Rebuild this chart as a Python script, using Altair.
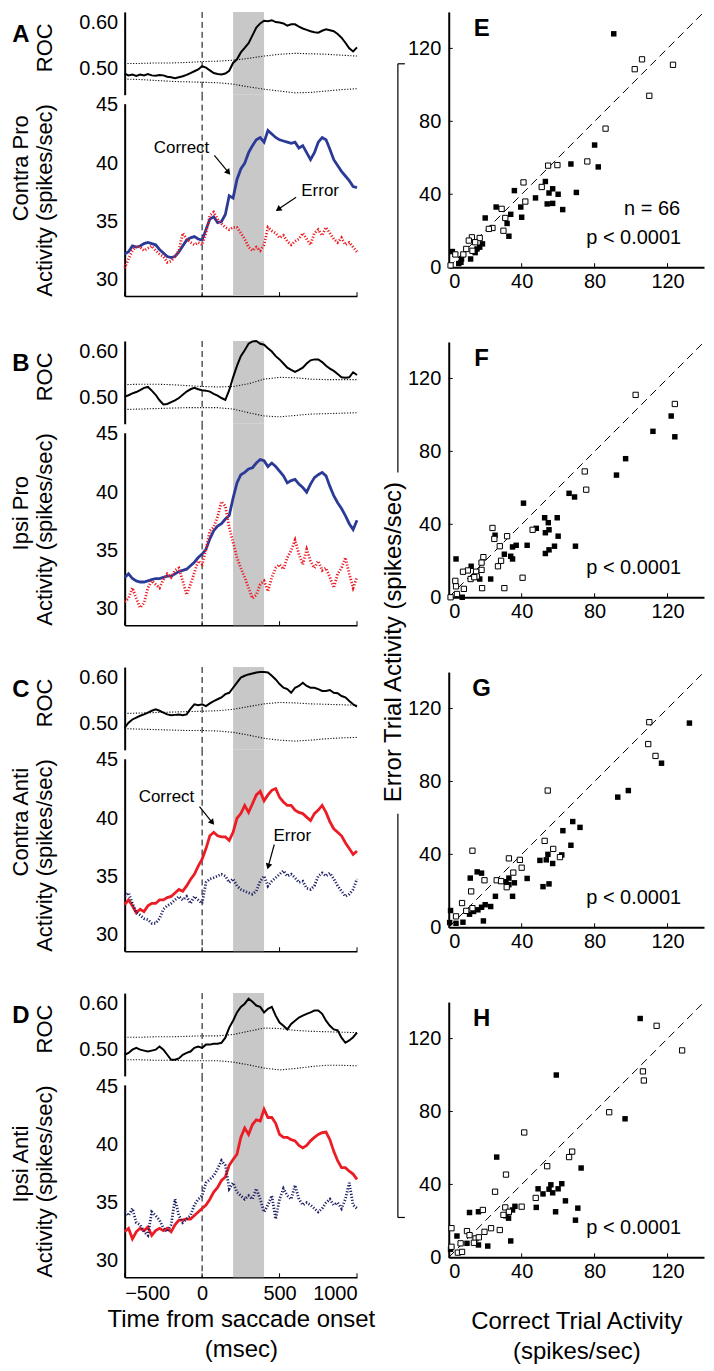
import math
import numpy as np
import pandas as pd
import altair as alt

FONT = "Liberation Sans"
BLUE = "#2b3a97"
RED = "#ec1c24"
NAVY = "#1f2266"
GRAY = "#c8c8c8"

# ---------------- time-course data (-500..1000 ms) ----------------
A_roc = [0.489, 0.485, 0.487, 0.484, 0.487, 0.485, 0.488, 0.485, 0.484, 0.486, 0.485, 0.482, 0.481, 0.479, 0.481, 0.483, 0.486, 0.490, 0.494, 0.498, 0.505, 0.502, 0.496, 0.490, 0.488, 0.487, 0.489, 0.495, 0.512, 0.520, 0.535, 0.545, 0.555, 0.572, 0.589, 0.598, 0.604, 0.603, 0.605, 0.601, 0.600, 0.598, 0.593, 0.596, 0.596, 0.591, 0.587, 0.584, 0.581, 0.579, 0.578, 0.582, 0.585, 0.583, 0.581, 0.575, 0.567, 0.556, 0.544, 0.537, 0.546]
A_up = [0.511, 0.511, 0.512, 0.512, 0.513, 0.515, 0.516, 0.518, 0.522, 0.527, 0.531, 0.533, 0.532, 0.531, 0.529, 0.527]
A_lo = [0.477, 0.476, 0.474, 0.472, 0.471, 0.470, 0.469, 0.466, 0.460, 0.455, 0.451, 0.447, 0.448, 0.451, 0.454, 0.456]
A_cor = [32.2, 32.4, 32.9, 32.8, 32.9, 33.1, 33.2, 33.1, 33.0, 32.6, 32.3, 32.0, 31.9, 32.0, 32.4, 32.9, 33.4, 33.6, 33.7, 33.5, 33.4, 34.3, 35.2, 35.4, 34.9, 35.0, 35.6, 37.2, 37.0, 38.6, 39.5, 40.0, 40.9, 41.5, 42.0, 42.2, 41.8, 42.8, 42.5, 42.2, 42.0, 41.9, 41.8, 41.7, 41.8, 41.3, 41.5, 40.9, 40.3, 40.9, 41.8, 42.2, 42.0, 41.2, 40.3, 39.8, 39.3, 38.9, 38.5, 38.0, 37.9]
A_err = [31.0, 31.8, 32.5, 32.9, 32.8, 32.5, 32.7, 32.9, 32.5, 32.2, 32.0, 31.5, 31.6, 32.0, 32.5, 34.0, 33.5, 33.2, 33.0, 33.2, 33.0, 34.0, 35.5, 35.8, 35.2, 34.8, 34.5, 34.3, 34.5, 34.5, 34.0, 33.5, 32.8, 32.5, 32.8, 32.5, 33.0, 34.5, 34.2, 34.0, 33.6, 33.8, 33.3, 33.0, 33.3, 33.5, 34.0, 33.5, 33.0, 34.0, 34.3, 33.8, 34.5, 34.0, 33.5, 33.2, 33.6, 33.0, 33.2, 32.8, 32.4]

B_roc = [0.502, 0.505, 0.509, 0.512, 0.516, 0.521, 0.523, 0.515, 0.506, 0.494, 0.485, 0.486, 0.490, 0.494, 0.499, 0.506, 0.513, 0.518, 0.521, 0.518, 0.516, 0.515, 0.513, 0.508, 0.504, 0.499, 0.495, 0.516, 0.544, 0.569, 0.590, 0.603, 0.617, 0.622, 0.623, 0.617, 0.615, 0.607, 0.600, 0.590, 0.583, 0.574, 0.565, 0.560, 0.556, 0.560, 0.565, 0.574, 0.581, 0.583, 0.583, 0.577, 0.569, 0.563, 0.558, 0.551, 0.544, 0.543, 0.544, 0.555, 0.549]
B_up = [0.528, 0.529, 0.529, 0.528, 0.526, 0.524, 0.523, 0.524, 0.530, 0.540, 0.544, 0.543, 0.540, 0.539, 0.539, 0.539]
B_lo = [0.474, 0.475, 0.476, 0.477, 0.478, 0.478, 0.478, 0.475, 0.467, 0.460, 0.458, 0.461, 0.464, 0.465, 0.466, 0.467]
B_cor = [32.7, 33.0, 32.6, 32.4, 32.3, 32.3, 32.4, 32.5, 32.6, 32.6, 32.7, 32.8, 32.8, 33.0, 33.2, 33.3, 33.4, 33.7, 34.0, 34.4, 34.7, 35.1, 36.0, 36.7, 37.1, 37.3, 37.7, 38.0, 39.5, 40.8, 41.5, 41.7, 42.0, 42.1, 42.5, 42.8, 42.7, 42.2, 42.5, 42.2, 41.8, 41.4, 40.8, 41.0, 41.1, 40.7, 40.4, 40.0, 40.7, 41.25, 41.5, 41.7, 41.4, 40.5, 39.7, 39.1, 38.6, 38.0, 37.3, 36.8, 37.6]
B_err = [30.6, 30.9, 31.8, 30.9, 30.1, 30.5, 31.8, 32.4, 32.1, 31.8, 32.5, 33.0, 32.7, 33.3, 33.5, 32.4, 31.2, 32.1, 33.1, 34.1, 33.8, 35.1, 36.7, 37.0, 37.9, 39.2, 38.8, 37.0, 35.7, 34.4, 33.5, 32.7, 31.8, 30.9, 31.2, 32.1, 32.4, 31.5, 32.7, 33.5, 33.8, 33.4, 34.4, 35.0, 35.9, 34.7, 33.8, 35.1, 34.1, 33.5, 34.1, 33.3, 33.5, 32.7, 31.8, 33.0, 33.5, 34.4, 33.0, 31.8, 32.7]

C_roc = [0.491, 0.502, 0.509, 0.513, 0.517, 0.520, 0.524, 0.528, 0.531, 0.528, 0.524, 0.520, 0.518, 0.519, 0.520, 0.518, 0.520, 0.532, 0.542, 0.540, 0.542, 0.538, 0.544, 0.549, 0.553, 0.557, 0.564, 0.567, 0.578, 0.589, 0.600, 0.604, 0.607, 0.609, 0.611, 0.612, 0.612, 0.611, 0.604, 0.596, 0.586, 0.578, 0.575, 0.567, 0.578, 0.582, 0.589, 0.582, 0.578, 0.578, 0.575, 0.571, 0.571, 0.573, 0.567, 0.566, 0.560, 0.557, 0.549, 0.542, 0.537]
C_up = [0.522, 0.523, 0.524, 0.525, 0.526, 0.527, 0.528, 0.531, 0.537, 0.543, 0.546, 0.545, 0.543, 0.542, 0.541, 0.540]
C_lo = [0.489, 0.488, 0.487, 0.486, 0.485, 0.485, 0.484, 0.481, 0.475, 0.468, 0.464, 0.462, 0.464, 0.467, 0.469, 0.470]
C_cor = [32.6, 33.0, 32.5, 31.9, 32.2, 32.0, 32.5, 32.7, 32.7, 33.0, 33.0, 33.2, 33.3, 33.6, 33.9, 33.75, 34.2, 34.75, 35.2, 35.9, 36.5, 37.4, 38.5, 38.8, 38.5, 38.4, 38.4, 38.1, 38.8, 40.0, 40.4, 41.1, 40.5, 41.25, 42.0, 42.3, 41.5, 42.0, 42.4, 42.55, 41.8, 41.4, 41.1, 41.1, 40.7, 40.5, 40.4, 40.1, 39.8, 40.4, 40.7, 41.1, 40.5, 39.7, 39.1, 38.8, 38.5, 37.9, 37.4, 36.9, 37.2]
C_err = [33.3, 33.6, 32.7, 31.9, 31.7, 31.4, 31.3, 31.0, 31.0, 31.4, 32.2, 32.5, 32.7, 33.0, 33.3, 33.0, 33.3, 32.7, 33.3, 33.0, 32.7, 34.5, 34.8, 34.9, 35.05, 35.2, 35.05, 34.5, 34.8, 34.2, 33.9, 33.75, 33.6, 33.5, 33.75, 34.6, 35.05, 34.2, 34.6, 34.9, 35.2, 35.5, 35.05, 35.2, 34.9, 34.5, 34.6, 34.0, 33.9, 34.2, 35.05, 35.3, 35.05, 35.3, 34.8, 34.2, 33.75, 33.3, 33.5, 33.9, 34.8]

D_roc = [0.489, 0.493, 0.500, 0.504, 0.500, 0.498, 0.496, 0.498, 0.500, 0.507, 0.500, 0.489, 0.478, 0.478, 0.481, 0.489, 0.493, 0.496, 0.504, 0.507, 0.504, 0.511, 0.511, 0.513, 0.513, 0.515, 0.526, 0.548, 0.563, 0.581, 0.593, 0.600, 0.611, 0.604, 0.596, 0.593, 0.581, 0.589, 0.593, 0.574, 0.559, 0.552, 0.544, 0.556, 0.563, 0.570, 0.574, 0.578, 0.581, 0.585, 0.585, 0.578, 0.563, 0.552, 0.544, 0.542, 0.526, 0.515, 0.520, 0.527, 0.537]
D_up = [0.527, 0.527, 0.528, 0.528, 0.529, 0.530, 0.530, 0.533, 0.540, 0.547, 0.546, 0.542, 0.540, 0.539, 0.538, 0.537]
D_lo = [0.478, 0.478, 0.477, 0.477, 0.476, 0.476, 0.476, 0.473, 0.467, 0.460, 0.456, 0.459, 0.463, 0.466, 0.466, 0.465]
D_cor = [32.5, 32.8, 31.9, 32.5, 32.8, 32.6, 32.9, 32.2, 32.6, 32.8, 32.6, 32.8, 32.5, 33.1, 33.5, 33.5, 33.6, 33.6, 33.9, 34.2, 34.5, 34.8, 35.3, 35.9, 36.3, 36.9, 37.2, 38.2, 38.7, 39.15, 40.6, 41.4, 40.85, 41.7, 42.1, 42.0, 43.0, 42.3, 42.3, 41.8, 40.85, 40.6, 40.6, 40.4, 40.3, 39.9, 39.7, 39.9, 40.3, 40.6, 40.85, 41.0, 41.05, 40.4, 39.4, 38.6, 38.0, 38.0, 37.7, 37.45, 37.0]
D_err = [34.2, 33.9, 34.5, 33.3, 33.1, 32.5, 32.2, 34.2, 33.9, 33.5, 32.8, 32.5, 33.1, 35.3, 33.9, 33.3, 33.6, 33.9, 34.8, 35.3, 35.6, 36.7, 37.0, 37.3, 37.9, 38.6, 38.2, 36.2, 36.7, 35.9, 35.6, 35.3, 35.6, 35.3, 36.2, 35.3, 34.2, 34.8, 35.6, 33.6, 35.3, 36.2, 35.6, 35.3, 36.5, 35.3, 34.8, 35.0, 34.8, 34.5, 34.2, 34.5, 35.0, 35.3, 34.8, 35.0, 34.5, 35.3, 36.7, 34.8, 34.5]

BAND = [200, 400]
ONSET = [0]
X_TICKS = [-500, 0, 500, 1000]

# ---------------- scatter data (correct x, error y) ----------------
E_fx = [90.5, 80, 82, 67, 70, 62.5, 57, 60, 55, 53, 54, 57, 47.6, 36, 39.5, 40, 34, 32, 33, 26, 20, 18.5, 15.5, 14.5, 12, 6.7, 2, 5.5, 7, 17]
E_fy = [128, 67, 55, 56.6, 41, 31.6, 43, 40, 40.7, 47, 34.7, 35, 38, 42, 33, 27.4, 29, 24, 17, 33, 27, 12.8, 10, 8, 4.5, 2.7, 8.6, 2, 4.5, 11]
E_ox = [123, 106, 102, 110, 86, 76, 59.6, 54.5, 41, 51, 42, 31, 30, 29, 24, 22, 17, 12.7, 11, 14.5, 8, 3.6, 1, 9.6, 13]
E_oy = [111, 114, 108.6, 94, 76, 58, 56, 55.7, 46.5, 44, 36, 27, 20, 32, 21.5, 21, 16, 16.4, 14.6, 13.7, 7, 7, 1, 10, 9]
F_fx = [122, 112, 124, 97, 92, 66, 69, 41, 52.6, 59.5, 54.6, 55, 48, 53, 60, 43, 37, 35, 58, 69.5, 55, 53, 30.5, 34, 35, 25.4, 23, 17, 12.3, 4, 7.4]
F_fy = [99.4, 91, 88, 76, 67, 57, 55, 51.6, 43.6, 43.6, 40.9, 37, 37.8, 35.4, 33.5, 28.5, 28.5, 27.6, 28, 28, 26, 24, 23.6, 22.5, 21, 34, 10, 10, 17, 21, 0]
F_ox = [102.5, 124, 74.6, 75.4, 46, 24, 25, 32, 28, 28.7, 27, 19, 18, 18, 15, 15.4, 10.5, 7.8, 12, 3.6, 4, 8.3, 4.5, 1, 18.3, 30.5, 40.5, 14]
F_oy = [111, 106, 69, 59, 37, 38, 32, 33.5, 28, 20, 17, 22, 19, 15, 14, 11.4, 14.7, 14, 10, 9, 6, 4.6, 1.8, 0, 5, 5, 10.7, 11]
G_fx = [132, 116.7, 98.5, 92.7, 72, 68, 62.6, 67, 62, 54.4, 53.5, 50, 57, 55, 51.7, 43, 36, 35, 33, 33, 31.4, 25.6, 23, 20, 18, 15.6, 18, 11.8, 16, 13.6, 11.4, 19, 1, 0.5, 4, 7.8]
G_fy = [112, 90, 75, 71.4, 54.8, 58, 53, 45, 39.7, 40, 37, 36.7, 35, 23.8, 22.3, 26.8, 24.4, 17, 27, 23.4, 25, 17, 11.4, 12.4, 11, 30.4, 29.7, 27, 9.6, 8.7, 7.2, 3.5, 9.2, 2.6, 2.2, 2.8]
G_ox = [110, 109.4, 113.4, 54.3, 52.6, 57.3, 61, 13, 33, 39, 40, 35.4, 26.3, 28.7, 19.6, 31.8, 12.3, 7.3, 9.6, 13, 4]
G_oy = [112.5, 100.5, 94, 75, 47.4, 43, 38.5, 42, 37.8, 37, 32.7, 30, 25.8, 25.3, 25.8, 22, 19.7, 13.3, 9, 10.5, 6]
H_fx = [105, 59, 96.7, 26.3, 72.6, 62, 56, 60, 55, 57, 49, 51.7, 64, 70.8, 48, 58.6, 69.5, 36.3, 35, 33, 31.4, 32.8, 11.4, 16.3, 4.5, 10, 16.3, 21.4, 34, 1]
H_fy = [131, 100, 76, 55, 49, 40.4, 39.8, 37.6, 37.4, 35.4, 37.6, 34.8, 31, 27, 27.4, 25, 20.4, 28, 26, 24.6, 22.8, 21.5, 24.6, 25, 11.7, 7.7, 6.8, 6.2, 9, 4.4]
H_ox = [114, 128, 106.5, 107, 88, 41.4, 67.7, 66, 54, 31.4, 25.4, 47.7, 40, 31, 33, 30, 18.7, 1.5, 10, 11.4, 14.7, 16.5, 19.6, 23.2, 28, 6.5, 13.8, 1.5, 5, 7.3]
H_oy = [127, 113.5, 102, 97, 79.6, 68.5, 58, 55, 50, 45.4, 36, 32.6, 27.8, 27.4, 25, 23.3, 26, 16, 14.4, 12.2, 10.4, 11, 14, 16, 15, 7.7, 8, 5.8, 2.6, 3]
IDENTITY = [0, 140]
S_TICKS = [40, 80, 120]

# annotation arrows (data coords): text x, y, arrow start x,y, end x,y
ANN_A = [("Correct", -133, 41.34, 79, 40.66, 170, 39.2), ("Error", 762, 37.58, 607, 37.07, 491, 36.04)]
ANN_C = [("Correct", -230, 41.85, -17, 41.0, 66, 39.63), ("Error", 582, 38.52, 466, 37.75, 427, 35.87)]

# ---------------- layout constants ----------------
W_L, H_ROC, H_ACT = 233, 83, 193
GAP = 9
ROC_DOM = [0.443, 0.623]
ACT_DOM = [28.6, 45.1]
W_S = H_S = 256
S_DOM = [0, 140]
LBL_X = -104

XS = alt.Scale(domain=[-500, 1000], nice=False, zero=False)


def ser(vals, name):
    return pd.DataFrame({"t": np.linspace(-500, 1000, len(vals)), "v": vals, "s": name})


def roc_chart(letter, roc, up, lo, title_dy):
    ys = alt.Scale(domain=ROC_DOM, nice=False, zero=False)
    xax = None
    yax = alt.Axis(values=[0.5, 0.6], format=".2f", title="ROC", ticks=False, labelPadding=7,
                   titleX=-80, titleY=H_ROC / 2 + title_dy, titleAngle=270, titleAlign="center",
                   titleBaseline="middle", titleFontSize=22, labelFontSize=20, domainWidth=2)

    def X(f):
        return alt.X(f, type="quantitative", scale=XS, axis=xax)

    def Y(f):
        return alt.Y(f, type="quantitative", scale=ys, axis=yax)

    band = alt.Chart(pd.DataFrame({"a": [BAND[0]], "b": [BAND[1]]})).mark_rect(color=GRAY).encode(
        x=X("a"), x2="b", y=alt.value(0), y2=alt.value(H_ROC))
    onset = alt.Chart(pd.DataFrame({"o": ONSET})).mark_rule(color="black", strokeWidth=1, strokeDash=[6, 4]).encode(
        x=X("o"), y=alt.value(0), y2=alt.value(H_ROC))
    ci = alt.Chart(pd.concat([ser(up, "up"), ser(lo, "lo")])).mark_line(
        color="#111111", strokeWidth=1.1, strokeDash=[1.2, 1.6]).encode(x=X("t"), y=Y("v"), detail="s:N")
    main = alt.Chart(ser(roc, "roc")).mark_line(color="black", strokeWidth=2).encode(x=X("t"), y=Y("v"))
    let = alt.Chart(pd.DataFrame({"k": [0]})).mark_text(text=letter, fontSize=24, fontWeight="bold",
                                                         align="center", baseline="middle").encode(
        x=alt.value(LBL_X), y=alt.value(23))
    return alt.layer(band, onset, ci, main, let).properties(width=W_L, height=H_ROC)


def act_chart(row_label, cor, err, cor_col, err_col, ann, bottom):
    ys = alt.Scale(domain=ACT_DOM, nice=False, zero=False)
    if bottom:
        xax = alt.Axis(values=X_TICKS, format="d", ticks=False, labelPadding=6, labelFontSize=20,
                       domainWidth=1.5, title=["Time from saccade onset", "(msec)"], titleFontSize=24,
                       titleLineHeight=30, titlePadding=4, titleFontWeight="normal")
    else:
        xax = alt.Axis(values=X_TICKS, ticks=False, labels=False, title=None, domainWidth=1.5)
    yax = alt.Axis(values=[30, 35, 40, 45], title="Activity (spikes/sec)", ticks=False, labelPadding=7,
                   titleX=-80, titleY=H_ACT / 2, titleAngle=270, titleAlign="center", titleBaseline="middle",
                   titleFontSize=22, labelFontSize=20, domainWidth=2)

    def X(f):
        return alt.X(f, type="quantitative", scale=XS, axis=xax)

    def Y(f):
        return alt.Y(f, type="quantitative", scale=ys, axis=yax)

    band = alt.Chart(pd.DataFrame({"a": [BAND[0]], "b": [BAND[1]]})).mark_rect(color=GRAY).encode(
        x=X("a"), x2="b", y=alt.value(-GAP), y2=alt.value(H_ACT))
    onset = alt.Chart(pd.DataFrame({"o": ONSET})).mark_rule(color="black", strokeWidth=1, strokeDash=[6, 4]).encode(
        x=X("o"), y=alt.value(-GAP), y2=alt.value(H_ACT))
    ticks = alt.Chart(pd.DataFrame({"o": X_TICKS})).mark_rule(color="black", strokeWidth=1).encode(
        x=X("o"), y=alt.value(H_ACT), y2=alt.value(H_ACT - 4))
    c_line = alt.Chart(ser(cor, "c")).mark_line(color=cor_col, strokeWidth=2.8).encode(x=X("t"), y=Y("v"))
    e_line = alt.Chart(ser(err, "e")).mark_line(color=err_col, strokeWidth=2.8, strokeDash=[1.2, 1.8]).encode(
        x=X("t"), y=Y("v"))
    lab = alt.Chart(pd.DataFrame({"k": [0]})).mark_text(text=row_label, fontSize=22, angle=270, align="left",
                                                         baseline="middle").encode(
        x=alt.value(LBL_X), y=alt.value(118))
    layers = [band, onset, ticks, c_line, e_line, lab]
    if ann:
        rows = []
        for (txt, tx, ty, x1, y1, x2, y2) in ann:
            dxp = (x2 - x1) * W_L / 1500.0
            dyp = -(y2 - y1) * H_ACT / (ACT_DOM[1] - ACT_DOM[0])
            ang = math.degrees(math.atan2(dxp, -dyp)) % 360
            rows.append({"txt": txt, "tx": tx, "ty": ty, "x1": x1, "y1": y1, "x2": x2, "y2": y2, "ang": ang})
        adf = pd.DataFrame(rows)
        layers.append(alt.Chart(adf).mark_text(fontSize=17, align="center", baseline="middle").encode(
            x=X("tx"), y=Y("ty"), text="txt:N"))
        layers.append(alt.Chart(adf).mark_rule(color="black", strokeWidth=1.2).encode(
            x=X("x1"), y=Y("y1"), x2="x2", y2="y2"))
        layers.append(alt.Chart(adf).mark_point(shape="triangle-up", filled=True, color="black", size=45,
                                                opacity=1).encode(
            x=X("x2"), y=Y("y2"), angle=alt.Angle("ang:Q", scale=None)))
    return alt.layer(*layers).properties(width=W_L, height=H_ACT)


def panel(letter, row_label, roc, up, lo, cor, err, cor_col, err_col, ann, bottom, title_dy):
    return alt.vconcat(roc_chart(letter, roc, up, lo, title_dy),
                       act_chart(row_label, cor, err, cor_col, err_col, ann, bottom),
                       spacing=GAP, bounds="flush")


def scatter(letter, fx, fy, ox, oy, show_n, bottom):
    sc = alt.Scale(domain=S_DOM, nice=False, zero=False)
    if bottom:
        xax = alt.Axis(values=[0, 40, 80, 120], ticks=False, labelPadding=4, labelFontSize=20, domainWidth=2,
                       title=["Correct Trial Activity", "(spikes/sec)"], titleFontSize=24, titleLineHeight=30,
                       titlePadding=28, titleFontWeight="normal")
    else:
        xax = alt.Axis(values=[0, 40, 80, 120], ticks=False, labelPadding=4, labelFontSize=20, domainWidth=2,
                       title=None)
    yax = alt.Axis(values=[0, 40, 80, 120], ticks=False, labelPadding=8, labelFontSize=20, domainWidth=2,
                   title=None)

    def X(f):
        return alt.X(f, type="quantitative", scale=sc, axis=xax)

    def Y(f):
        return alt.Y(f, type="quantitative", scale=sc, axis=yax)

    diag = alt.Chart(pd.DataFrame({"x": IDENTITY, "y": IDENTITY})).mark_line(
        color="black", strokeWidth=1, strokeDash=[8, 5]).encode(x=X("x"), y=Y("y"))
    tk = pd.DataFrame({"k": S_TICKS})
    xt = alt.Chart(tk).mark_rule(color="black").encode(x=X("k"), y=alt.value(H_S), y2=alt.value(H_S - 4))
    yt = alt.Chart(tk).mark_rule(color="black").encode(y=Y("k"), x=alt.value(0), x2=alt.value(4))
    filled = alt.Chart(pd.DataFrame({"x": fx, "y": fy})).mark_square(
        filled=True, color="black", size=30, opacity=1).encode(x=X("x"), y=Y("y"))
    open_ = alt.Chart(pd.DataFrame({"x": ox, "y": oy})).mark_square(
        filled=True, fill="white", stroke="black", strokeWidth=1, size=28, opacity=1).encode(x=X("x"), y=Y("y"))
    let = alt.Chart(pd.DataFrame({"k": [0]})).mark_text(text=letter, fontSize=24, fontWeight="bold",
                                                         align="center", baseline="middle").encode(
        x=alt.value(33), y=alt.value(17))
    p = alt.Chart(pd.DataFrame({"k": [0]})).mark_text(text="p < 0.0001", fontSize=20, align="right",
                                                       baseline="middle").encode(
        x=alt.value(233), y=alt.value(227))
    layers = [diag, xt, yt, filled, open_, let, p]
    if show_n:
        layers.append(alt.Chart(pd.DataFrame({"k": [0]})).mark_text(text="n = 66", fontSize=20, align="right",
                                                                      baseline="middle").encode(
            x=alt.value(232), y=alt.value(198)))
    return alt.layer(*layers).properties(width=W_S, height=H_S)


left = alt.vconcat(
    panel("A", "Contra Pro", A_roc, A_up, A_lo, A_cor, A_err, BLUE, RED, ANN_A, False, -6),
    panel("B", "Ipsi Pro", B_roc, B_up, B_lo, B_cor, B_err, BLUE, RED, None, False, -6),
    panel("C", "Contra Anti", C_roc, C_up, C_lo, C_cor, C_err, RED, NAVY, ANN_C, False, -6),
    panel("D", "Ipsi Anti", D_roc, D_up, D_lo, D_cor, D_err, RED, NAVY, None, True, -6),
    spacing=40,
)

right = alt.vconcat(
    scatter("E", E_fx, E_fy, E_ox, E_oy, True, False),
    scatter("F", F_fx, F_fy, F_ox, F_oy, False, False),
    scatter("G", G_fx, G_fy, G_ox, G_oy, False, False),
    scatter("H", H_fx, H_fy, H_ox, H_oy, False, True),
    spacing=75, bounds="flush",
)

kdf = pd.DataFrame({"k": [0]})
lab_text = alt.Chart(kdf).mark_text(text="Error Trial Activity (spikes/sec)", fontSize=24, angle=270,
                                    align="center", baseline="middle").encode(x=alt.value(12), y=alt.value(632))
br1 = alt.Chart(kdf).mark_rule(color="black", strokeWidth=1.2).encode(x=alt.value(16), y=alt.value(52), y2=alt.value(462))
br1t = alt.Chart(kdf).mark_rule(color="black", strokeWidth=1.2).encode(x=alt.value(16), x2=alt.value(23), y=alt.value(52))
br2 = alt.Chart(kdf).mark_rule(color="black", strokeWidth=1.2).encode(x=alt.value(16), y=alt.value(804), y2=alt.value(1209))
br2t = alt.Chart(kdf).mark_rule(color="black", strokeWidth=1.2).encode(x=alt.value(16), x2=alt.value(23), y=alt.value(1209))
label_chart = alt.layer(lab_text, br1, br1t, br2, br2t).properties(width=24, height=1250)

chart = alt.hconcat(left, alt.hconcat(label_chart, right, spacing=1), spacing=7).properties(
    padding={"left": 2, "top": 0, "right": 0, "bottom": 0}
).configure(font=FONT).configure_view(stroke=None).configure_axis(
    grid=False, labelColor="black", titleColor="black", domainColor="black", labelFont=FONT, titleFont=FONT,
    titleFontWeight="normal"
).configure_text(font=FONT, color="black")

chart.save("out.html", embed_options={"renderer": "svg", "actions": False})
